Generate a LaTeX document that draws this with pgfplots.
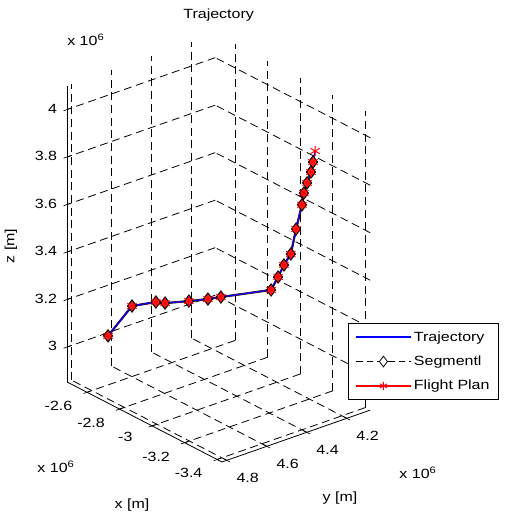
\documentclass[border=0pt]{standalone}
\usepackage{fontspec}
\setmainfont{Liberation Sans}[FakeStretch=1.2]
\usepackage{pgfplots}
\usepackage{pgfplotstable}
\pgfplotsset{compat=1.18}
\usetikzlibrary{calc}

% ECEF-like coordinates in units of 10^6 m
\pgfplotstableread{
x y z
-2.734 4.828 3.139
-2.767 4.735 3.249
-2.840 4.675 3.274
-2.872 4.655 3.275
-2.946 4.596 3.292
-3.004 4.548 3.307
-3.042 4.514 3.319
-3.187 4.381 3.361
-3.187 4.346 3.405
-3.185 4.315 3.446
-3.188 4.283 3.484
-3.161 4.235 3.565
-3.137 4.186 3.644
-3.122 4.164 3.682
-3.113 4.141 3.715
-3.105 4.115 3.750
-3.093 4.095 3.782
-3.079 4.073 3.817
}\plan

\pgfplotstableread{
x y z
-2.734 4.828 3.139
-2.767 4.735 3.249
-2.840 4.675 3.274
-2.872 4.655 3.275
-2.946 4.596 3.292
-3.004 4.548 3.307
-3.042 4.514 3.319
-3.187 4.381 3.361
-3.187 4.346 3.405
-3.185 4.315 3.446
-3.188 4.283 3.484
-3.161 4.235 3.565
-3.137 4.186 3.644
-3.122 4.164 3.682
-3.113 4.141 3.715
-3.105 4.115 3.750
-3.093 4.095 3.782
}\seg

\begin{document}
\begin{tikzpicture}[font=\fontsize{10}{12}\selectfont]
\begin{axis}[
  x={(-121.95pt,63pt)}, y={(-150pt,-52.5pt)}, z={(0pt,178.125pt)},
  xmin=-3.43, xmax=-2.477, ymin=4.083, ymax=4.824, zmin=2.853, zmax=4.10,
  xtick={-3.4,-3.2,-3,-2.8,-2.6}, ytick={4.2,4.4,4.6,4.8}, ztick={3,3.2,3.4,3.6,3.8,4},
  grid=major,
  grid style={black, line width=0.6pt, dash pattern=on 6pt off 3.5pt},
  axis line style={draw=none},
  major tick length=0pt,
  clip=false,
  scaled ticks=false,
  /pgf/number format/assume math mode=true,
  ticklabel style={font=\fontsize{10}{12}\selectfont},
  xticklabel style={xshift=-14pt},
  yticklabel style={xshift=10pt, yshift=-4pt},
  zticklabel style={xshift=-4pt},
  title={Trajectory},
  title style={font=\fontsize{10}{12}\selectfont},
  legend style={at={(0.928,0.325)}, anchor=north west, draw=black, fill=white,
    line width=0.8pt, font=\fontsize{10}{12}\selectfont, row sep=5.5pt,
    inner xsep=5pt, inner ysep=4pt},
  legend cell align=left,
]
\addlegendimage{legend image code/.code={
  \fill[blue] (0pt,-0.45pt) rectangle (41pt,0.55pt);}}
\addlegendentry{Trajectory}
\addlegendimage{legend image code/.code={
  \draw[draw=black, line width=0.6pt, dash pattern=on 5pt off 3pt] (0pt,0pt) -- (41pt,0pt);
  \draw[draw=black, fill=white, line width=0.6pt] (20.5pt,4pt) -- (23.5pt,0pt) -- (20.5pt,-4pt) -- (17.5pt,0pt) -- cycle;}}
\addlegendentry{Segmentl}
\addlegendimage{legend image code/.code={
  \fill[red] (0pt,-0.45pt) rectangle (41pt,0.55pt);
  \draw[draw=red, line width=0.7pt] (20.5pt,-3pt) -- (20.5pt,3pt)
     (17.9pt,-1.5pt) -- (23.1pt,1.5pt) (17.9pt,1.5pt) -- (23.1pt,-1.5pt);}}
\addlegendentry{Flight Plan}

\addplot3 [forget plot, black, line width=1.6pt, mark=none] table {\seg};
\addplot3 [forget plot, red, line width=0.9pt, mark=none] table {\plan};
\addplot3 [forget plot, blue, line width=0.9pt, mark=none] table {\plan};
\addplot3 [forget plot, only marks, mark=diamond*, mark size=4.5pt, mark options={fill=red!85, draw=black, line width=0.8pt}] table {\seg};
\addplot3 [forget plot, only marks, mark=asterisk, mark size=4pt, mark options={red, line width=0.7pt}] table {\plan};

% axis lines (MATLAB style: x, y along the floor front edges, z at the left corner)
\draw[black, line width=0.6pt] (axis cs:-2.477,4.824,2.853) -- (axis cs:-3.43,4.824,2.853) -- (axis cs:-3.43,4.083,2.853);
\draw[black, line width=0.6pt] (axis cs:-2.477,4.824,2.853) -- (axis cs:-2.477,4.824,4.10);
% tick marks on the axis lines
\pgfplotsinvokeforeach{3,3.2,3.4,3.6,3.8,4}{
  \draw[black, line width=0.5pt] (axis cs:-2.477,4.841,#1) -- (axis cs:-2.477,4.807,#1);}
\pgfplotsinvokeforeach{-3.4,-3.2,-3,-2.8,-2.6}{
  \draw[black, line width=0.5pt] (axis cs:#1,4.841,2.853) -- (axis cs:#1,4.807,2.853);}
\pgfplotsinvokeforeach{4.2,4.4,4.6,4.8}{
  \draw[black, line width=0.5pt] (axis cs:-3.45,#1,2.853) -- (axis cs:-3.41,#1,2.853);}
\coordinate (F) at (axis cs:-3.43,4.824,2.853);
\end{axis}
\node[anchor=south west, inner sep=0pt] at ($(F)+(-116.25pt,312pt)$) {x 10\textsuperscript{6}};
\node[rotate=90, inner sep=0pt] at ($(F)+(-158.25pt,162pt)$) {z [m]};
\node[inner sep=0pt] at ($(F)+(-67.5pt,-32.25pt)$) {x [m]};
\node[inner sep=0pt] at ($(F)+(-124.5pt,-3.75pt)$) {x 10\textsuperscript{6}};
\node[inner sep=0pt] at ($(F)+(88.5pt,-27pt)$) {y [m]};
\node[inner sep=0pt] at ($(F)+(147pt,-8.25pt)$) {x 10\textsuperscript{6}};
\pgfresetboundingbox
\path[use as bounding box] ($(F)+(-166.5pt,346.5pt)$) rectangle ($(F)+(212.25pt,-39.75pt)$);
\end{tikzpicture}
\end{document}
